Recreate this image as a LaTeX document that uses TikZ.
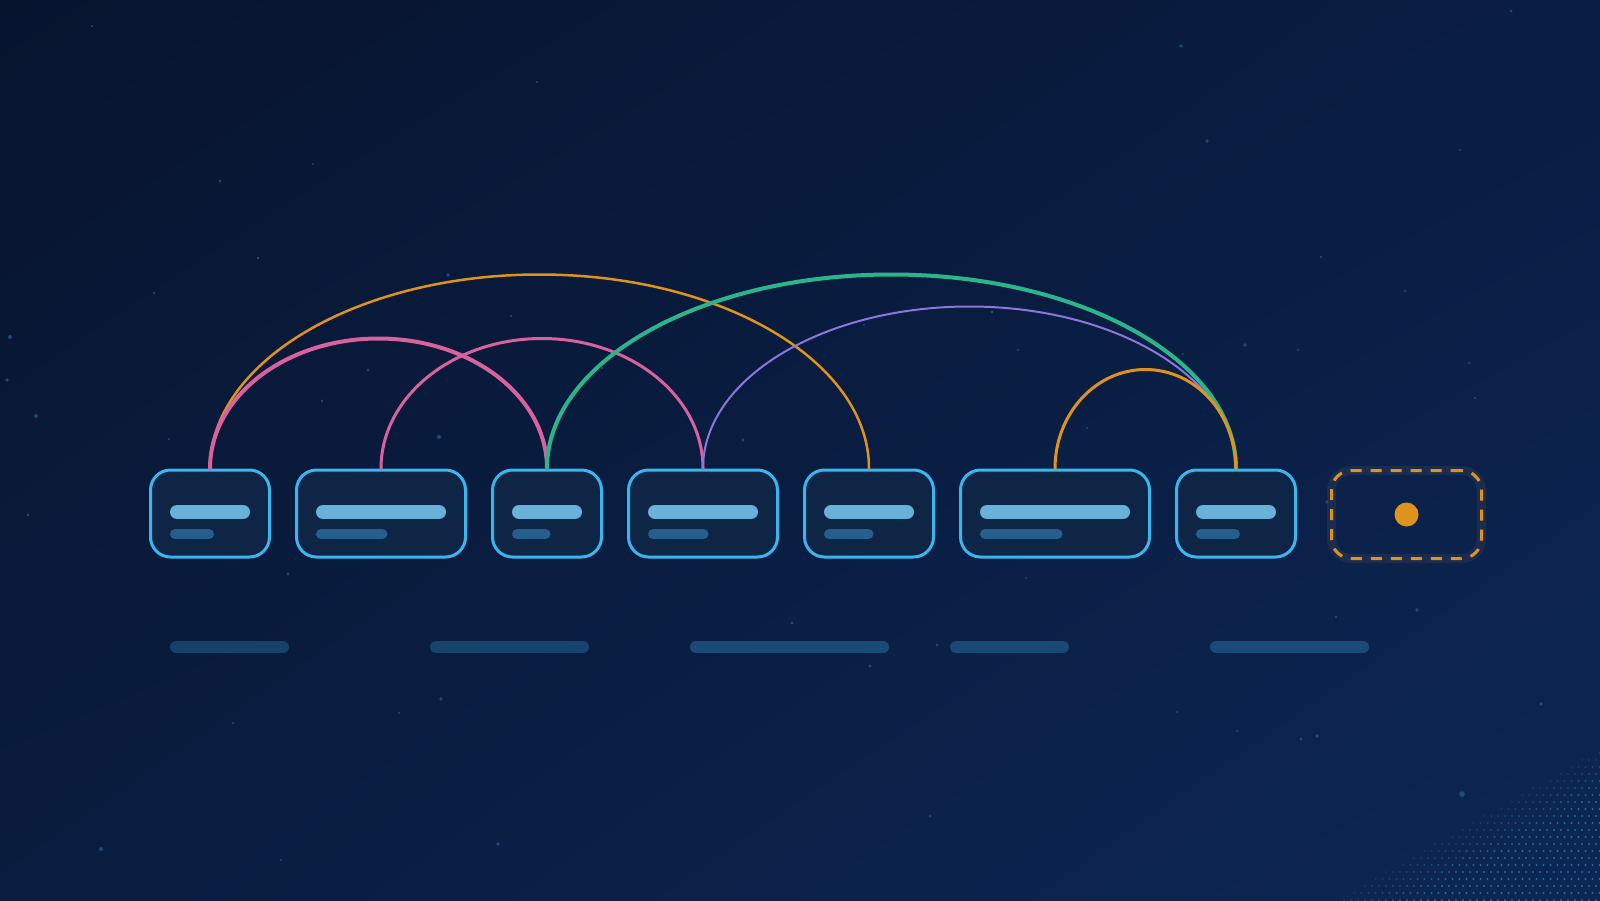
\documentclass[tikz,border=0pt]{standalone}
\usepackage{tikz}
\usetikzlibrary{calc,shadings}

\definecolor{bgtl}{HTML}{07142E}
\definecolor{bgtr}{HTML}{0A1D43}
\definecolor{bgbl}{HTML}{0A1C3F}
\definecolor{bgbr}{HTML}{0C2754}
\definecolor{speck}{HTML}{1D4A78}
\definecolor{grain}{HTML}{2C6C9E}
\definecolor{cardline}{HTML}{3AB6EF}
\definecolor{cardfill}{HTML}{0F2545}
\definecolor{barhi}{HTML}{68B1D9}
\definecolor{barlo}{HTML}{245F8E}
\definecolor{trackc}{HTML}{194B76}
\definecolor{linkpink}{HTML}{D8629F}
\definecolor{linkamber}{HTML}{E0931A}
\definecolor{linkgreen}{HTML}{2BB58C}
\definecolor{linkviolet}{HTML}{8878DC}
\definecolor{haze}{HTML}{3A4158}

\begin{document}
\begin{tikzpicture}[x=1pt,y=1pt,
    card/.style={draw=cardline,fill=cardfill,line width=3pt,rounded corners=20pt,
      minimum height=87pt,inner sep=0pt},
    slotbox/.style={draw=linkamber,line width=3pt,dash pattern=on 11pt off 9pt,
      rounded corners=20pt,minimum width=150pt,minimum height=88pt,inner sep=0pt},
    barup/.style={draw=barhi,line width=14pt,line cap=round},
    bardown/.style={draw=barlo,line width=10pt,line cap=round},
    track/.style={draw=trackc,line width=12pt,line cap=round},
    link/.style={line cap=round}]

  % background
  \useasboundingbox (0,0) rectangle (1600,-900);
  \shade[upper left=bgtl,upper right=bgtr,lower left=bgbl,lower right=bgbr]
    (0,0) rectangle (1600,-900);
  \foreach \x/\y/\r in {92/26/1.2,220/181/1.6,313/164/1.2,258/258/1.4,154/293/1.2,
      10/337/2,7/380/1.8,36/416/2,1181/46/1.8,1511/11/1.6,1207/141/1.8,1460/150/1.2,
      1321/257/1.4,1405/291/1.2,1475/398/1.2,1245/345/1.8,1298/350/1.2,1018/350/1.2,
      992/312/1.6,1183/354/1.2,1469/363/1.2,1417/610/1.8,1336/617/1.4,1541/704/1.8,
      1317/736/1.8,1301/739/1.6,1462/794/2.8,101/849/2,281/860/1.2,498/844/1.8,
      930/816/1.4,1177/712/1.2,870/666/1.6,792/623/1.6,441/699/1.8,399/713/1.2,
      233/723/1.2,28/515/1.6,288/574/1.6,439/437/2,169/439/1.2,511/316/1.4,
      602/368/1.4,368/370/1.4,322/401/1.4,743/440/1.6,864/325/1.2,1087/428/1.2,
      448/275/1.8,537/82/1.2,1026/578/1.2,937/645/1.6,1327/502/1.8,1237/731/1.2}
    \fill[speck] (\x,-\y) circle (\r);
  % halftone in the lower right corner
  \foreach \i in {0,...,38}{
    \foreach \j in {0,...,22}{
      \pgfmathsetmacro\xx{1330+7*\i+3.5*mod(\j,2)}
      \pgfmathsetmacro\yy{746+7*\j}
      \pgfmathsetmacro\s{(\yy-900)+0.574*(\xx-1337)}
      \ifdim\s pt>0pt
        \pgfmathsetmacro\op{min(0.95,0.25+\s/70)}
        \fill[grain,opacity=\op] (\xx,-\yy) circle (1.1);
      \fi
    }
  }

  % tracks below the row
  \foreach \x/\w/\o in {170/119/0.8,430/159/0.85,690/199/1,950/119/0.95,1210/159/1}
    \draw[track,opacity=\o] (\x+6,-647) -- ++(\w-12,0);

  % the row of cards
  \node[card,minimum width=119pt] (b1) at (210,-513.5) {};
  \node[card,minimum width=169pt] (b2) at (381,-513.5) {};
  \node[card,minimum width=109pt] (b3) at (547,-513.5) {};
  \node[card,minimum width=149pt] (b4) at (703,-513.5) {};
  \node[card,minimum width=129pt] (b5) at (869,-513.5) {};
  \node[card,minimum width=189pt] (b6) at (1055,-513.5) {};
  \node[card,minimum width=119pt] (b7) at (1236,-513.5) {};
  \foreach \n/\w in {b1/80,b2/130,b3/70,b4/110,b5/90,b6/150,b7/80}{
    \draw[barup] ([xshift=28pt,yshift=1.5pt]\n.west) -- ++(\w-14,0);
    \draw[bardown] ([xshift=26pt,yshift=-20.5pt]\n.west) -- ++(0.55*\w-10,0);
  }

  % empty slot
  \node[draw=haze,line width=9pt,opacity=0.35,rounded corners=20pt,
    minimum width=150pt,minimum height=88pt] (glow) at (1406.5,-514.5) {};
  \node[slotbox] (slot) at (1406.5,-514.5) {};
  \node[circle,fill=linkamber,minimum size=24pt,inner sep=0pt] (dot) at (slot) {};

  % links
  \draw[link,linkamber,line width=2.5pt] let \p1=(b1.north), \p2=(b5.north) in
    (\p1) arc[start angle=180,end angle=0,x radius={(\x2-\x1)/2},y radius=194pt];
  \draw[link,linkpink,line width=3pt] let \p1=(b2.north), \p2=(b4.north) in
    (\p1) arc[start angle=180,end angle=0,x radius={(\x2-\x1)/2},y radius=130pt];
  \draw[link,linkpink,line width=4pt] let \p1=(b1.north), \p2=(b3.north) in
    (\p1) arc[start angle=180,end angle=0,x radius={(\x2-\x1)/2},y radius=130pt];
  \draw[link,linkviolet,line width=2pt] let \p1=(b4.north), \p2=(b7.north) in
    (\p1) arc[start angle=180,end angle=0,x radius={(\x2-\x1)/2},y radius=162pt];
  \draw[link,linkgreen,line width=4pt] let \p1=(b3.north), \p2=(b7.north) in
    (\p1) arc[start angle=180,end angle=0,x radius={(\x2-\x1)/2},y radius=194pt];
  \draw[link,linkamber,line width=3pt] let \p1=(b6.north), \p2=(b7.north) in
    (\p1) arc[start angle=180,end angle=0,x radius={(\x2-\x1)/2},y radius=99pt];
\end{tikzpicture}
\end{document}
